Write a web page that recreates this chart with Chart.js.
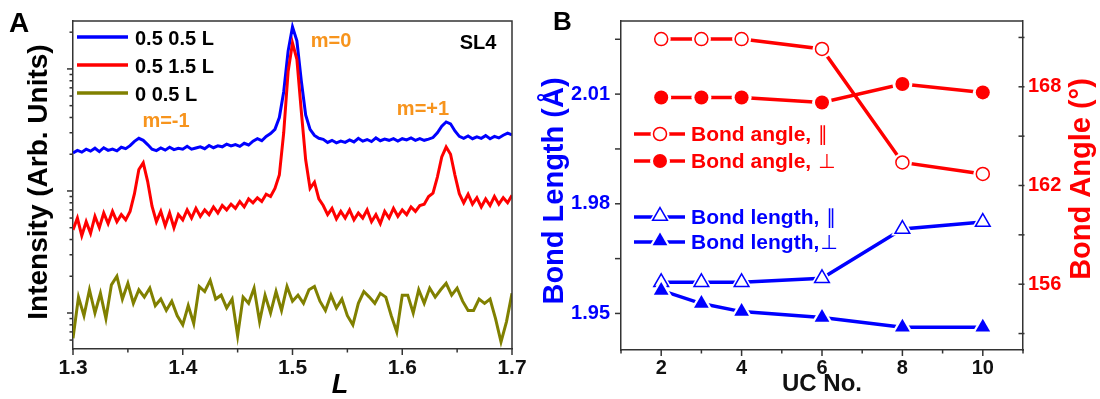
<!DOCTYPE html>
<html><head><meta charset="utf-8">
<script src="https://cdn.jsdelivr.net/npm/chart.js@4.4.1/dist/chart.umd.min.js"></script>
<style>
html,body{margin:0;padding:0;background:#fff;}
body{width:1100px;height:399px;position:relative;overflow:hidden;}
canvas{position:absolute;top:0;}
#ca{left:0;} #cb{left:530px;}
</style></head><body>
<canvas id="ca" width="530" height="399"></canvas>
<canvas id="cb" width="570" height="399"></canvas>
<script>
// ================= Panel A data =================
const L_START = 1.3;
const L_STEP_HALF = 0.004;   // sampling step of the 0.5 0.5 L and 0.5 1.5 L scans
const L_STEP_ZERO = 0.005;   // sampling step of the 0 0.5 L scan
const scanLabels = ['0.5 0.5 L', '0.5 1.5 L', '0 0.5 L'];
const int_05_05 = [
  20.5,21.5,20.8,22.0,21.2,22.4,21.0,22.6,21.5,22.0,
  21.3,22.8,22.2,23.5,25.5,27.0,26.0,24.0,22.0,21.4,
  22.5,21.6,22.8,21.8,22.4,22.0,23.2,22.0,22.5,23.0,
  22.2,23.6,22.6,23.4,23.0,24.2,23.4,24.0,23.2,24.6,
  23.8,25.6,26.8,25.8,28.0,29.5,32.0,40.0,65.0,140,
  221,170,80,42,32,28.5,27.0,26.5,25.0,26.0,
  24.8,25.6,25.0,26.2,25.2,27.0,25.6,26.4,25.4,27.2,
  25.8,26.6,26.0,26.8,25.6,26.8,26.2,27.2,26.0,26.8,
  26.0,26.6,27.4,30.0,34.0,36.8,35.5,31.0,28.0,27.0,
  28.2,26.8,27.8,27.0,28.4,26.8,28.0,27.2,28.6,29.8,
  28.8];
const int_05_15 = [
  4.8,6.0,4.3,5.6,4.5,6.2,5.0,6.6,5.4,6.8,
  5.6,6.4,5.8,6.8,9.5,15.0,17.0,12.0,7.5,5.6,
  6.8,5.2,6.6,5.0,6.4,5.8,7.0,6.0,7.2,6.2,
  7.0,6.4,7.4,6.6,7.6,7.0,7.8,7.2,8.2,7.4,
  8.6,8.0,8.8,8.2,9.4,9.0,10.5,13.5,30,95,
  163,120,45,18,10.5,11.8,8.6,7.6,6.4,7.2,
  5.9,6.8,6.0,7.0,5.8,6.6,6.0,7.0,5.6,6.4,
  5.4,6.8,6.0,7.2,6.2,7.0,6.4,7.4,6.8,7.6,
  7.8,9.0,9.6,13.0,19.0,22.9,20.0,13.5,9.5,8.0,
  9.4,7.8,8.8,7.4,8.6,7.6,9.0,7.8,8.8,8.0,
  9.2];
const int_0_05 = [
  0.62,1.35,0.95,1.55,1.00,1.45,0.90,1.70,2.00,1.30,
  1.75,1.20,1.55,1.35,1.60,1.15,1.30,1.05,1.25,0.95,
  0.80,1.15,0.82,1.65,1.50,1.85,1.30,1.40,1.10,1.30,
  0.65,1.35,1.20,1.60,0.85,1.40,1.00,1.50,1.05,1.65,
  1.25,1.40,1.20,1.55,1.65,1.25,1.05,1.40,1.10,1.30,
  0.95,0.80,1.20,1.50,1.35,1.20,1.45,1.35,0.95,0.70,
  1.40,1.40,1.00,1.55,1.20,1.60,1.35,1.55,1.75,1.40,
  1.60,1.25,1.05,1.05,1.30,1.20,1.30,0.90,0.58,0.85,
  1.45];
const xTicksA = [1.3,1.35,1.4,1.45,1.5,1.55,1.6,1.65,1.7];
const xTickLabelsA = ['1.3','','1.4','','1.5','','1.6','','1.7'];
const yTicksA = [0.6,0.7,0.8,0.9,1,2,3,4,5,6,7,8,9,10,20,30,40,50,60,70,80,90,100,200];
const yMajorA = [1,10,100];
const peakLabels = ['m=-1','m=0','m=+1'];
const sampleLabel = 'SL4';

// ================= Panel B data =================
const ucNo = [2,3,4,6,8,10];
const angleParallel = [170.9,170.9,170.9,170.3,163.4,162.7];
const anglePerp     = [167.35,167.35,167.35,167.05,168.17,167.66];
const lengthParallel = [1.9585,1.9585,1.9585,1.9596,1.9731,1.9750];
const lengthPerp     = [1.9563,1.9527,1.9505,1.9489,1.9462,1.9462];
const seriesNamesB = ['Bond angle, ', 'Bond angle, ', 'Bond length, ', 'Bond length,'];
const seriesSymbolsB = ['\u2225', '\u22A5', '\u2225', '\u22A5'];
const xTicksB = [1,2,3,4,5,6,7,8,9,10,11];
const xTickLabelsB = ['','2','','4','','6','','8','','10',''];
const yTicksB = [1.95,1.965,1.98,1.995,2.01,2.025];
const yTickLabelsB = ['1.95','','1.98','','2.01',''];
const y2TicksB = [153,156,159,162,165,168,171];
const y2TickLabelsB = ['','156','','162','','168',''];

// ================= helpers =================
const FAM = '"Liberation Sans", Arial, Helvetica, sans-serif';
const AX = '#333333';
function font(size, weight, style){ return (style||'') + ' ' + (weight||'bold') + ' ' + size + 'px ' + FAM; }
function drawText(ctx, s, x, y, fnt, color, align, rot){
  ctx.save(); ctx.font = fnt; ctx.fillStyle = color; ctx.textAlign = align || 'center';
  ctx.textBaseline = 'alphabetic'; ctx.translate(x, y); if (rot) ctx.rotate(rot);
  ctx.fillText(s, 0, 0); ctx.restore();
}
function drawTickMarks(chart, majorFn){
  const ctx = chart.ctx; ctx.save(); ctx.strokeStyle = AX; ctx.lineWidth = 1.5;
  for (const id in chart.scales){
    const s = chart.scales[id];
    s.ticks.forEach((t, i) => {
      const p = s.getPixelForValue(t.value);
      const len = majorFn(id, t, i) ? 6 : 3.5;
      ctx.beginPath();
      if (s.isHorizontal()){ ctx.moveTo(p, s.top); ctx.lineTo(p, s.top + len); }
      else if (s.position === 'left'){ ctx.moveTo(s.right, p); ctx.lineTo(s.right - len, p); }
      else { ctx.moveTo(s.left + 1.5, p); ctx.lineTo(s.left - len + 1.5, p); }
      ctx.stroke();
    });
  }
  ctx.restore();
}
function markerPath(ctx, shape, x, y, r){
  ctx.beginPath();
  if (shape === 'circle'){ ctx.arc(x, y, r, 0, Math.PI*2); }
  else {
    const c = Math.cos(Math.PI/6)*r;
    ctx.moveTo(x, y - r); ctx.lineTo(x + c, y + r/2); ctx.lineTo(x - c, y + r/2); ctx.closePath();
  }
}
function drawMarker(ctx, m, x, y){
  ctx.save();
  ctx.fillStyle = '#fff';
  markerPath(ctx, m.shape, x, y, m.r + (m.shape === 'circle' ? 3 : 4.5)); ctx.fill();
  markerPath(ctx, m.shape, x, y, m.r);
  if (m.filled){ ctx.fillStyle = m.color; ctx.fill(); }
  else { ctx.fillStyle = '#fff'; ctx.fill(); ctx.lineWidth = 1.5; ctx.strokeStyle = m.color; ctx.stroke(); }
  ctx.restore();
}
function axisCommon(extra){
  return Object.assign({
    grid: {drawOnChartArea:false, drawTicks:true, color:'rgba(0,0,0,0)'},
    border: {display:true, color:AX, width:1.5}
  }, extra);
}

// ================= Panel A chart =================
const colorsA = ['#0000ff', '#ff0000', '#808000'];
const decoA = {
  id: 'decoA',
  afterDraw(chart){
    const ctx = chart.ctx, a = chart.chartArea;
    ctx.save(); ctx.strokeStyle = AX; ctx.lineWidth = 1.5;
    ctx.beginPath(); ctx.moveTo(a.left, a.top); ctx.lineTo(a.right, a.top); ctx.lineTo(a.right, a.bottom); ctx.stroke();
    ctx.restore();
    drawTickMarks(chart, (id, t, i) => id === 'x' ? xTickLabelsA[i] !== '' : yMajorA.includes(t.value));
    // legend
    const rows = [37, 65, 93];
    chart.data.datasets.forEach((ds, i) => {
      ctx.save(); ctx.strokeStyle = ds.borderColor; ctx.lineWidth = 3.5;
      ctx.beginPath(); ctx.moveTo(77, rows[i]); ctx.lineTo(128, rows[i]); ctx.stroke(); ctx.restore();
      drawText(ctx, ds.label, 135, rows[i] + 7.5, font(20), '#000', 'left');
    });
    const orange = '#f7941d';
    drawText(ctx, peakLabels[0], 166, 127, font(20), orange);
    drawText(ctx, peakLabels[1], 331, 47, font(20), orange);
    drawText(ctx, peakLabels[2], 423, 115, font(20), orange);
    drawText(ctx, sampleLabel, 478, 49, font(20), '#000');
    drawText(ctx, 'A', 19, 32, font(28), '#000');
    drawText(ctx, 'Intensity (Arb. Units)', 47, 182, font(28), '#000', 'center', -Math.PI/2);
    drawText(ctx, 'L', 340, 393, font(27, 'bold', 'italic'), '#000');
  }
};
new Chart(document.getElementById('ca'), {
  type: 'line',
  data: { datasets: [
    { label: scanLabels[0], data: int_05_05.map((v, i) => ({x: L_START + i*L_STEP_HALF, y: v})),
      borderColor: colorsA[0], borderWidth: 3, pointRadius: 0, tension: 0, order: 2 },
    { label: scanLabels[1], data: int_05_15.map((v, i) => ({x: L_START + i*L_STEP_HALF, y: v})),
      borderColor: colorsA[1], borderWidth: 3, pointRadius: 0, tension: 0, order: 1 },
    { label: scanLabels[2], data: int_0_05.map((v, i) => ({x: L_START + i*L_STEP_ZERO, y: v})),
      borderColor: colorsA[2], borderWidth: 3, pointRadius: 0, tension: 0, order: 3 }
  ]},
  options: {
    responsive: false, animation: false, events: [],
    layout: { padding: {top: 21, right: 18, left: 0, bottom: 0} },
    plugins: { legend: {display: false}, tooltip: {enabled: false} },
    scales: {
      x: axisCommon({ type: 'linear', min: 1.3, max: 1.7,
        afterBuildTicks: s => { s.ticks = xTicksA.map(v => ({value: v})); },
        afterFit: s => { s.height = 50; },
        grid: {drawOnChartArea:false, drawTicks:true, tickLength:5, color:'rgba(0,0,0,0)'},
        ticks: { autoSkip: false, maxRotation: 0, padding: 2, color: '#111',
          font: {family: FAM, size: 21, weight: 'bold'},
          callback: (v, i) => xTickLabelsA[i] } }),
      y: axisCommon({ type: 'logarithmic', min: 0.507, max: 247,
        afterBuildTicks: s => { s.ticks = yTicksA.map(v => ({value: v})); },
        afterFit: s => { s.width = 73; },
        ticks: { autoSkip: false, callback: () => '' } })
    }
  },
  plugins: [decoA]
});

// ================= Panel B chart =================
const markersB = [
  {shape:'circle', r:6.5, color:'#ff0000', filled:false},
  {shape:'circle', r:7, color:'#ff0000', filled:true},
  {shape:'triangle', r:8.5, color:'#0000ff', filled:false},
  {shape:'triangle', r:8.5, color:'#0000ff', filled:true}
];
const decoB = {
  id: 'decoB',
  afterDatasetsDraw(chart){
    const ctx = chart.ctx;
    chart.data.datasets.forEach((ds, di) => {
      const meta = chart.getDatasetMeta(di);
      meta.data.forEach(pt => drawMarker(ctx, markersB[di], pt.x, pt.y));
    });
  },
  afterDraw(chart){
    const ctx = chart.ctx, a = chart.chartArea;
    ctx.save(); ctx.strokeStyle = AX; ctx.lineWidth = 1.5;
    ctx.beginPath(); ctx.moveTo(a.left, a.top); ctx.lineTo(a.right, a.top); ctx.stroke(); ctx.restore();
    drawTickMarks(chart, (id, t, i) => id === 'x' ? xTickLabelsB[i] !== '' : true);
    // legend
    const rows = [134, 161, 217, 242];
    [0, 1, 2, 3].forEach((di, k) => {
      const m = markersB[di], y = rows[k];
      ctx.save(); ctx.strokeStyle = m.color; ctx.lineWidth = 3.5;
      ctx.beginPath(); ctx.moveTo(104, y); ctx.lineTo(155, y); ctx.stroke(); ctx.restore();
      drawMarker(ctx, m, 130, m.shape === 'triangle' ? y - 1 : y);
      ctx.save(); ctx.font = font(21); const w = ctx.measureText(seriesNamesB[di]).width; ctx.restore();
      drawText(ctx, seriesNamesB[di], 161, y + 7, font(21), m.color, 'left');
      drawText(ctx, seriesSymbolsB[di], 161 + w + 1, y + 7, '20px "DejaVu Sans", sans-serif', m.color, 'left');
    });
    drawText(ctx, 'B', 32.5, 30, font(26), '#000');
    drawText(ctx, 'Bond Length (\u00C5)', 33, 191, font(29), '#0000ff', 'center', -Math.PI/2);
    drawText(ctx, 'Bond Angle (\u00B0)', 560, 179, font(29), '#ff0000', 'center', -Math.PI/2);
    drawText(ctx, 'UC No.', 292, 391, font(24), '#111');
  }
};
function seriesB(label, vals, axis, color){
  return { label, data: ucNo.map((x, i) => ({x, y: vals[i]})), yAxisID: axis,
    borderColor: color, backgroundColor: color, borderWidth: 3.5, pointRadius: 0, tension: 0 };
}
new Chart(document.getElementById('cb'), {
  type: 'line',
  data: { datasets: [
    seriesB(seriesNamesB[0] + seriesSymbolsB[0], angleParallel, 'y2', '#ff0000'),
    seriesB(seriesNamesB[1] + seriesSymbolsB[1], anglePerp, 'y2', '#ff0000'),
    seriesB(seriesNamesB[2] + seriesSymbolsB[2], lengthParallel, 'y', '#0000ff'),
    seriesB(seriesNamesB[3] + seriesSymbolsB[3], lengthPerp, 'y', '#0000ff')
  ]},
  options: {
    responsive: false, animation: false, events: [],
    layout: { padding: {top: 21, right: 0, left: 0, bottom: 0} },
    plugins: { legend: {display: false}, tooltip: {enabled: false} },
    scales: {
      x: axisCommon({ type: 'linear', min: 1, max: 11,
        afterBuildTicks: s => { s.ticks = xTicksB.map(v => ({value: v})); },
        afterFit: s => { s.height = 49; },
        grid: {drawOnChartArea:false, drawTicks:true, tickLength:5, color:'rgba(0,0,0,0)'},
        ticks: { autoSkip: false, maxRotation: 0, padding: 1, color: '#111',
          font: {family: FAM, size: 20, weight: 'bold'},
          callback: (v, i) => xTickLabelsB[i] } }),
      y: axisCommon({ type: 'linear', position: 'left', min: 1.94, max: 2.03,
        afterBuildTicks: s => { s.ticks = yTicksB.map(v => ({value: v})); },
        afterFit: s => { s.width = 91; },
        grid: {drawOnChartArea:false, drawTicks:true, tickLength:5, color:'rgba(0,0,0,0)'},
        ticks: { autoSkip: false, padding: 6, color: '#0000ff',
          font: {family: FAM, size: 20, weight: 'bold'},
          callback: (v, i) => yTickLabelsB[i] } }),
      y2: axisCommon({ type: 'linear', position: 'right', min: 152, max: 172,
        afterBuildTicks: s => { s.ticks = y2TicksB.map(v => ({value: v})); },
        afterFit: s => { s.width = 77; },
        grid: {drawOnChartArea:false, drawTicks:true, tickLength:4, color:'rgba(0,0,0,0)'},
        ticks: { autoSkip: false, padding: 1, color: '#ff0000',
          font: {family: FAM, size: 20, weight: 'bold'},
          callback: (v, i) => y2TickLabelsB[i] } })
    }
  },
  plugins: [decoB]
});
</script>
</body></html>
